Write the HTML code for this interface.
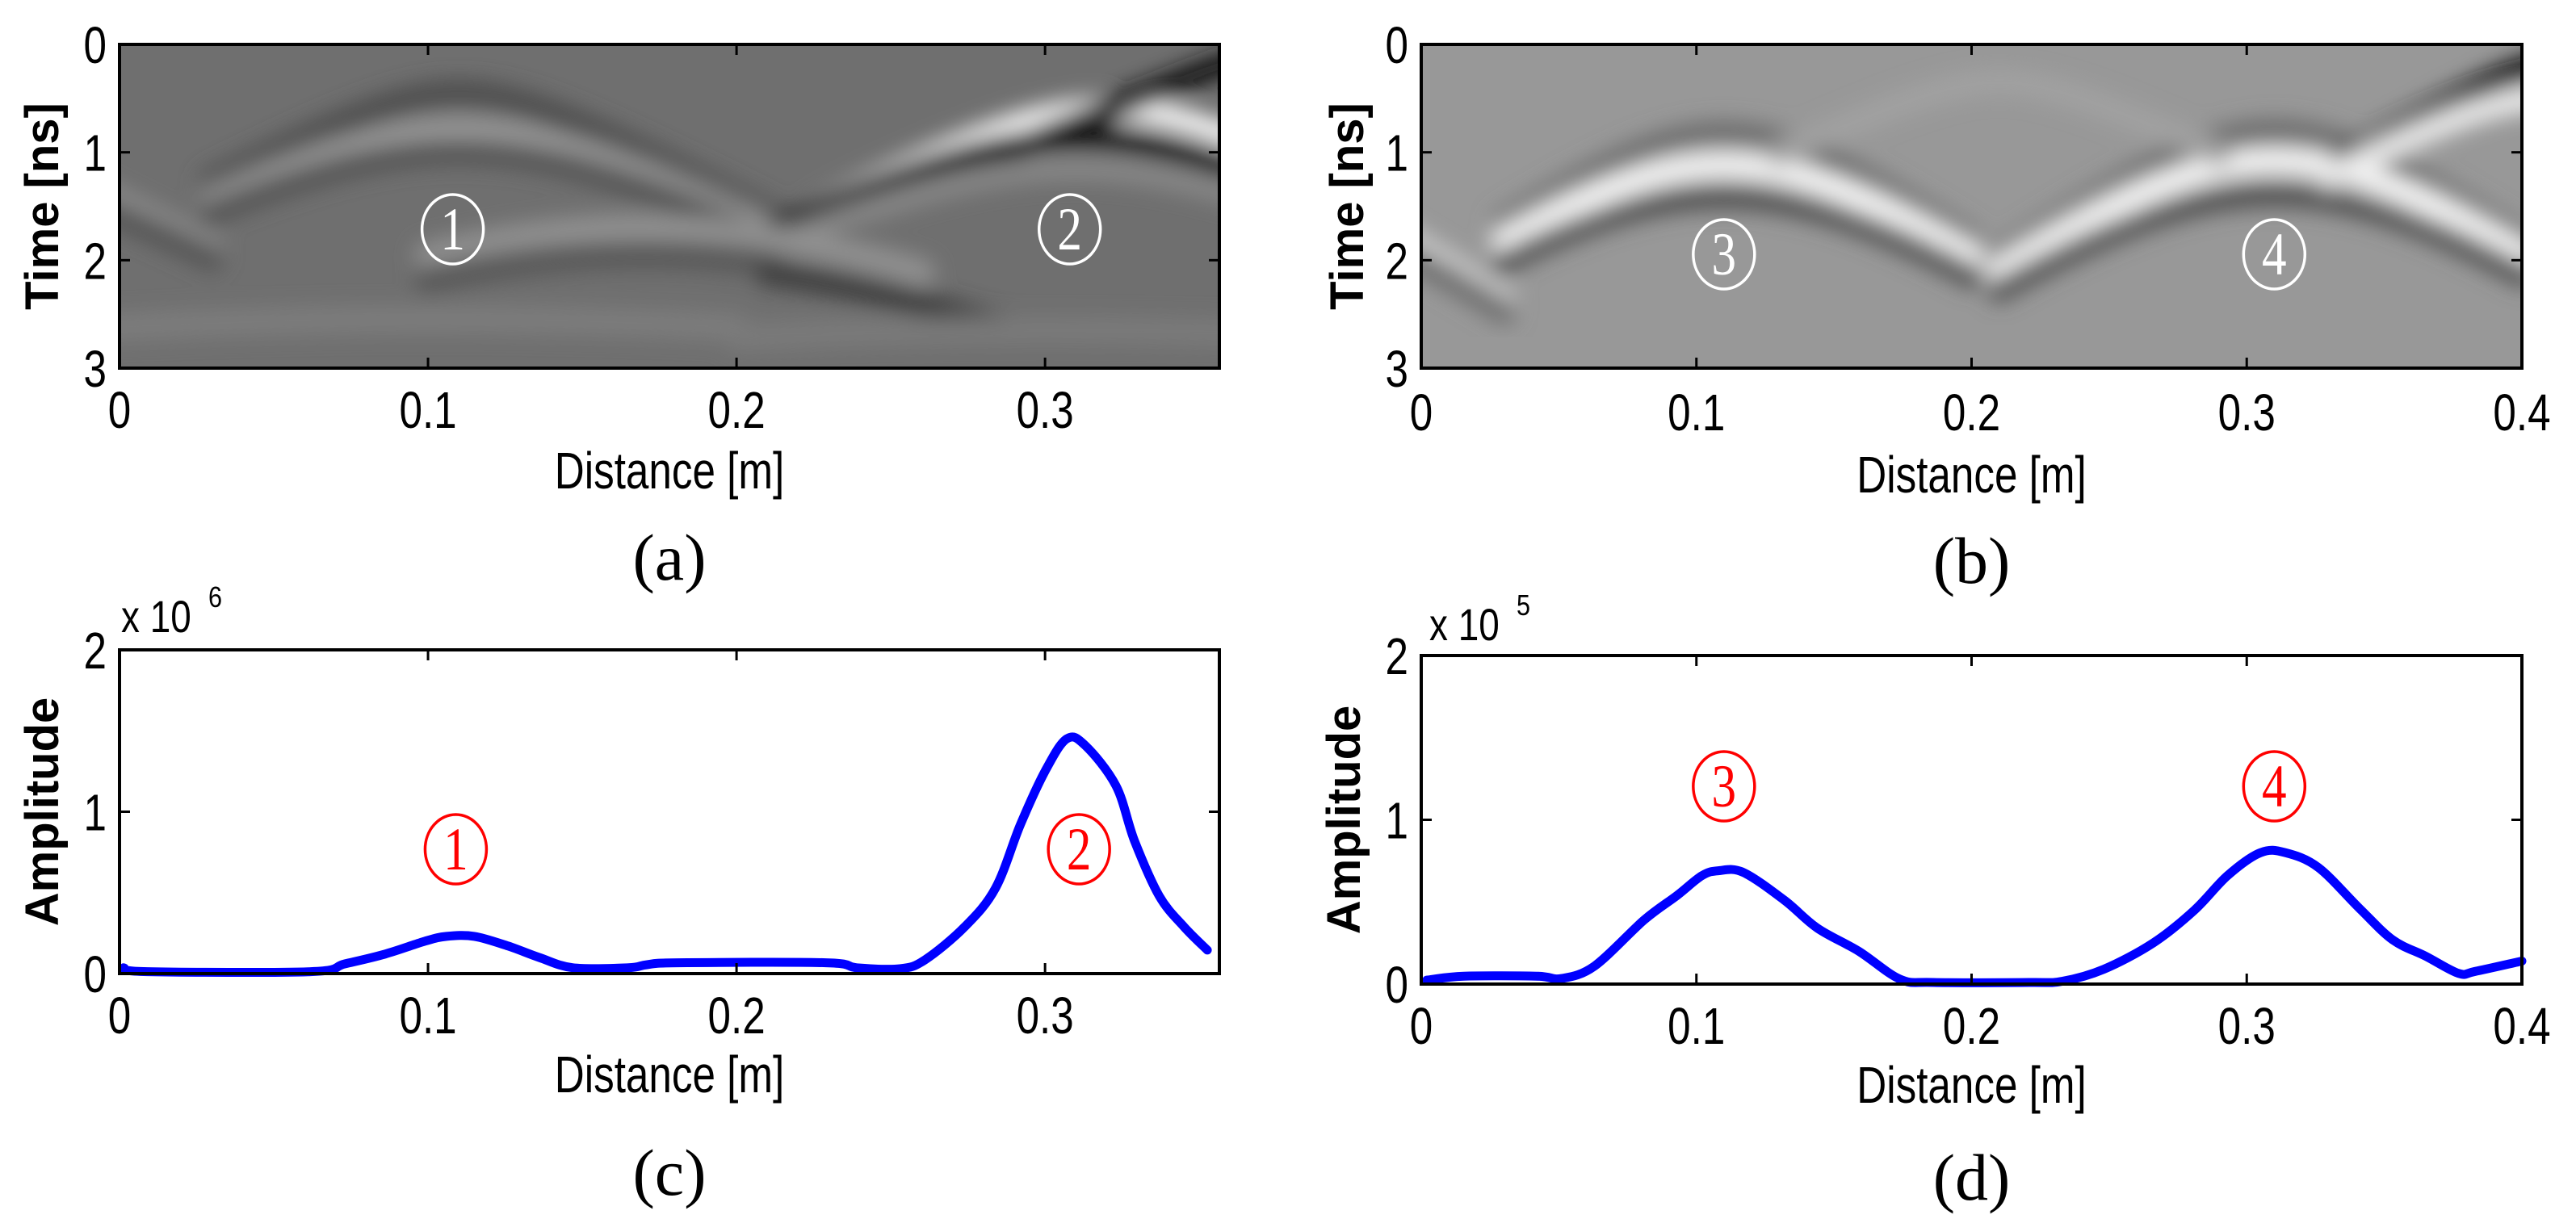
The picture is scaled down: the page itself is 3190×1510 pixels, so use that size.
<!DOCTYPE html>
<html><head><meta charset="utf-8">
<style>
html,body{margin:0;padding:0;background:#fff;}
svg{display:block;}
</style></head>
<body>
<svg id="fig" width="3190" height="1510" viewBox="0 0 3190 1510" xmlns="http://www.w3.org/2000/svg">
<defs>
<filter id="blurA" x="-10%" y="-10%" width="120%" height="120%"><feGaussianBlur stdDeviation="13"/></filter>
<clipPath id="clipA"><rect x="148" y="55" width="1362" height="401"/></clipPath>
<clipPath id="clipB"><rect x="1760" y="55" width="1363" height="401"/></clipPath>
</defs>
</svg>
<script>
// ---------- data ----------
// Panel (c) amplitude profile (x10^6)
const cX = [0.0013,0.009,0.062,0.073,0.086,0.099,0.106,0.115,0.126,0.136,0.147,0.165,0.171,0.181,0.229,0.239,0.253,0.261,0.274,0.284,0.292,0.300,0.307,0.313,0.323,0.329,0.337,0.345,0.3526];
const cY = [0.036,0.012,0.012,0.06,0.12,0.2,0.23,0.23,0.17,0.10,0.036,0.036,0.055,0.067,0.067,0.036,0.03,0.084,0.29,0.53,0.92,1.25,1.45,1.41,1.16,0.82,0.48,0.29,0.145];
// Panel (d) amplitude profile (x10^5)
const dX = [0.002,0.0155,0.042,0.051,0.063,0.081,0.093,0.102,0.108,0.117,0.132,0.144,0.159,0.174,0.186,0.221,0.233,0.248,0.266,0.281,0.293,0.305,0.314,0.326,0.341,0.353,0.365,0.377,0.383,0.4];
const dY = [0.024,0.048,0.048,0.034,0.11,0.39,0.54,0.66,0.69,0.68,0.51,0.34,0.20,0.03,0.01,0.01,0.017,0.09,0.25,0.45,0.66,0.80,0.80,0.71,0.46,0.27,0.17,0.065,0.077,0.14];
// Radargram (a) reflection bands
const aApexX = [0.11,0.11,0.11,-0.09,-0.09,0.32,0.37,0.31,0.31,0.17,0.17,0.17,0.10,0.30];
const aApexT = [0.45,0.78,1.00,0.55,0.85,0.60,0.12,0.87,1.15,1.70,1.95,2.05,2.55,2.65];
const aSlope = [15,15,15,15,15,15,12,15,15,14,14,14,6,6];
const aShade = [80,150,85,145,85,245,25,20,135,145,88,60,125,122];
const aWidth = [0.25,0.22,0.22,0.22,0.22,0.22,0.22,0.2,0.22,0.25,0.25,0.22,0.25,0.25];
const aXmin  = [0.03,0.03,0.03,-0.1,-0.1,0.21,0.21,0.21,0.2,0.1,0.1,0.21,-0.05,0.2];
const aXmax  = [0.21,0.21,0.21,0.03,0.03,0.4,0.4,0.4,0.4,0.26,0.21,0.29,0.2,0.4];
// Radargram (b) reflection bands
const bApexX = [0.11,0.11,0.11,0.31,0.31,0.31,0.41,0.41,-0.09,-0.09,0.21];
const bApexT = [0.82,1.12,1.42,0.80,1.08,1.40,0.18,0.50,0.95,1.22,0.35];
const bSlope = [18,18,18,18,18,18,14,14,18,18,12];
const bShade = [110,245,85,110,245,85,10,235,210,110,162];
const bWidth = [0.22,0.24,0.22,0.22,0.24,0.22,0.2,0.22,0.22,0.22,0.22];
const bXmin  = [0.03,0.03,0.03,0.21,0.21,0.21,0.335,0.33,-0.1,-0.1,0.13];
const bXmax  = [0.2,0.2,0.2,0.4,0.4,0.4,0.45,0.45,0.03,0.03,0.29];
const xTicksA = [0,0.1,0.2,0.3];
const xTicksB = [0,0.1,0.2,0.3,0.4];
const tTicks = [0,1,2,3];
const ampTicks = [0,1,2];

// ---------- helpers ----------
const NS = "http://www.w3.org/2000/svg";
const SANS='"Liberation Sans",sans-serif', SERIF='"Liberation Serif",serif';
const svg = document.getElementById('fig');
function mk(tag, attrs, parent){ const e=document.createElementNS(NS,tag); for(const k in attrs) e.setAttribute(k,attrs[k]); (parent||svg).appendChild(e); return e; }
function txt(str,x,y,size,opts){ opts=opts||{};
  const t=mk('text',{x:0,y:0,'text-anchor':opts.anchor||'middle',fill:opts.fill||'#000'});
  t.style.fontFamily=opts.family||SANS;
  t.style.fontSize=size+'px';
  if(opts.weight) t.style.fontWeight=opts.weight;
  const sx = opts.sx||1;
  t.setAttribute('transform','translate('+x+','+y+')'+(opts.rot?' rotate('+opts.rot+')':'')+' scale('+sx+',1)');
  t.textContent=str; return t; }

function makeAxes(p){
  const fx=v=>p.L+(v-p.x0)/(p.x1-p.x0)*(p.R-p.L);
  const fy=v=>p.B-(v-p.y0)/(p.y1-p.y0)*(p.B-p.T);
  return {fx,fy};
}

function radargram(p,clip,bg,AX,AT,AS,AC,AW,XMIN,XMAX,name){
  const {fx}=p.ax;
  const fyT=t=>p.T+t/3*(p.B-p.T);
  const g=mk('g',{'clip-path':'url(#'+clip+')'});
  
  
  mk('rect',{x:p.L-40,y:p.T-40,width:p.R-p.L+80,height:p.B-p.T+80,fill:bg},g);
  const bg2=mk('g',{filter:'url(#blurA)'},g);
  for(let i=0;i<AX.length;i++){
    let d='';
    for(let k=0;k<=60;k++){
      const x=XMIN[i]+(XMAX[i]-XMIN[i])*k/60;
      const t=Math.sqrt(AT[i]*AT[i]+AS[i]*AS[i]*(x-AX[i])*(x-AX[i]));
      d+=(k?'L':'M')+fx(x).toFixed(1)+','+fyT(t).toFixed(1);
    }
    const c=AC[i];
    const path=mk('path',{d:d,fill:'none',stroke:'rgb('+c+','+c+','+c+')','stroke-width':AW[i]/3*(p.B-p.T),'stroke-linecap':'round'},bg2);
    
    
  }
}

function frame(p,xt,yt,ylab){
  const {fx}=p.ax;
  const g=mk('g',{});
  
  
  mk('rect',{x:p.L,y:p.T,width:p.R-p.L,height:p.B-p.T,fill:'none',stroke:'#000','stroke-width':4},g);
  xt.forEach(v=>{
    const X=fx(v);
    mk('line',{x1:X,y1:p.B,x2:X,y2:p.B-13,stroke:'#000','stroke-width':3},g);
    mk('line',{x1:X,y1:p.T,x2:X,y2:p.T+13,stroke:'#000','stroke-width':3},g);
    const t=txt(String(v),X,p.tickY,64,{sx:0.8});
    
    
  });
  yt.forEach(v=>{
    const Y=p.tfy(v);
    mk('line',{x1:p.L,y1:Y,x2:p.L+13,y2:Y,stroke:'#000','stroke-width':3},g);
    mk('line',{x1:p.R,y1:Y,x2:p.R-13,y2:Y,stroke:'#000','stroke-width':3},g);
    const t=txt(String(v),p.L-16,Y+23,64,{anchor:'end',sx:0.8});
    
    
  });
  const xl=txt('Distance [m]',(p.L+p.R)/2,p.xlabY,64,{sx:0.8});
  
  
  const yl=txt(ylab,p.ylabX,(p.T+p.B)/2,58,{rot:-90,weight:'bold'});
  
  
  const cap=txt(p.cap,(p.L+p.R)/2,p.capY,82,{family:SERIF});
  
  
}

function marker(label,cx,cy,color,name){
  const g=mk('g',{});
  
  
  mk('ellipse',{cx:cx,cy:cy,rx:38,ry:43,fill:'none',stroke:color,'stroke-width':3.5},g);
  const t=mk('text',{x:0,y:0,'text-anchor':'middle',fill:color},g);
  t.style.fontFamily=SERIF; t.style.fontSize='72px';
  t.setAttribute('transform','translate('+cx+','+(cy+25)+') scale(0.85,1.05)');
  t.textContent=label;
}

function profile(p,X,Y,name){
  const {fx,fy}=p.ax;
  const P=X.map((v,i)=>[fx(v),fy(Y[i])]);
  let d='M'+P[0][0].toFixed(1)+','+P[0][1].toFixed(1);
  for(let i=0;i<P.length-1;i++){
    const p0=P[Math.max(0,i-1)],p1=P[i],p2=P[i+1],p3=P[Math.min(P.length-1,i+2)];
    const c1=[p1[0]+(p2[0]-p0[0])/6,p1[1]+(p2[1]-p0[1])/6];
    const c2=[p2[0]-(p3[0]-p1[0])/6,p2[1]-(p3[1]-p1[1])/6];
    d+='C'+c1[0].toFixed(1)+','+c1[1].toFixed(1)+' '+c2[0].toFixed(1)+','+c2[1].toFixed(1)+' '+p2[0].toFixed(1)+','+p2[1].toFixed(1);
  }
  const path=mk('path',{d:d,fill:'none',stroke:'#0000ff','stroke-width':11,'stroke-linejoin':'round','stroke-linecap':'round'});
  
  
}

// ---------- panels ----------
const pa={name:'panel-a',L:148,R:1510,T:55,B:456,x0:0,x1:0.3565,y0:0,y1:3,tickY:530,xlabY:605,ylabX:72,capY:718,cap:'(a)'};
pa.ax=makeAxes(pa); pa.tfy=t=>pa.T+t/3*(pa.B-pa.T);
radargram(pa,'clipA','#6f6f6f',aApexX,aApexT,aSlope,aShade,aWidth,aXmin,aXmax,'radargram-a');
frame(pa,xTicksA,tTicks,'Time [ns]');
marker('1',pa.ax.fx(0.108),284,'#fff','marker-1-a');
marker('2',pa.ax.fx(0.308),284,'#fff','marker-2-a');

const pb={name:'panel-b',L:1760,R:3123,T:55,B:456,x0:0,x1:0.4,y0:0,y1:3,tickY:533,xlabY:610,ylabX:1688,capY:722,cap:'(b)'};
pb.ax=makeAxes(pb); pb.tfy=t=>pb.T+t/3*(pb.B-pb.T);
radargram(pb,'clipB','#989898',bApexX,bApexT,bSlope,bShade,bWidth,bXmin,bXmax,'radargram-b');
frame(pb,xTicksB,tTicks,'Time [ns]');
marker('3',pb.ax.fx(0.11),315,'#fff','marker-3-b');
marker('4',pb.ax.fx(0.31),315,'#fff','marker-4-b');

const pc={name:'panel-c',L:148,R:1510,T:805,B:1206,x0:0,x1:0.3565,y0:0,y1:2,tickY:1280,xlabY:1353,ylabX:72,capY:1480,cap:'(c)'};
pc.ax=makeAxes(pc); pc.tfy=pc.ax.fy;
profile(pc,cX,cY,'amplitude-line-c');
frame(pc,xTicksA,ampTicks,'Amplitude');
marker('1',pc.ax.fx(0.109),1052,'#ff0000','marker-1-c');
marker('2',pc.ax.fx(0.311),1052,'#ff0000','marker-2-c');
let e=txt('x 10',150,783,56,{anchor:'start',sx:0.82});


e=txt('6',258,752,36,{anchor:'start',sx:0.85});



const pd={name:'panel-d',L:1760,R:3123,T:812,B:1219,x0:0,x1:0.4,y0:0,y1:2,tickY:1293,xlabY:1366,ylabX:1684,capY:1486,cap:'(d)'};
pd.ax=makeAxes(pd); pd.tfy=pd.ax.fy;
profile(pd,dX,dY,'amplitude-line-d');
frame(pd,xTicksB,ampTicks,'Amplitude');
marker('3',pd.ax.fx(0.11),974,'#ff0000','marker-3-d');
marker('4',pd.ax.fx(0.31),974,'#ff0000','marker-4-d');
e=txt('x 10',1770,793,56,{anchor:'start',sx:0.82});


e=txt('5',1878,762,36,{anchor:'start',sx:0.85});


</script>
</body></html>
